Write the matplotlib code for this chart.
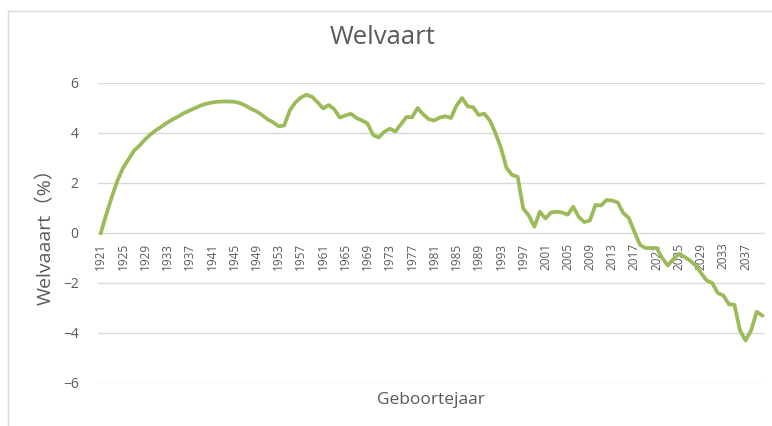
import matplotlib
matplotlib.use("Agg")
import matplotlib.pyplot as plt
from matplotlib.lines import Line2D
import numpy as np

plt.rcParams['font.family'] = ['Open Sans', 'Noto Sans CJK SC', 'DejaVu Sans']

years = list(range(1921, 2041))
welvaart = [
    0.00, 0.75, 1.45, 2.10, 2.60, 2.95, 3.30, 3.50, 3.75, 3.95,   # 1921-1930
    4.12, 4.27, 4.42, 4.55, 4.67, 4.80, 4.90, 5.00, 5.10, 5.17,   # 1931-1940
    5.22, 5.25, 5.26, 5.26, 5.25, 5.20, 5.10, 4.97, 4.87, 4.72,   # 1941-1950
    4.55, 4.43, 4.27, 4.30, 4.90, 5.22, 5.42, 5.53, 5.45, 5.23,   # 1951-1960
    4.98, 5.12, 4.95, 4.62, 4.70, 4.77, 4.60, 4.50, 4.38, 3.92,   # 1961-1970
    3.82, 4.05, 4.17, 4.06, 4.35, 4.64, 4.63, 5.00, 4.75, 4.55,   # 1971-1980
    4.50, 4.62, 4.67, 4.60, 5.10, 5.40, 5.07, 5.03, 4.72, 4.77,   # 1981-1990
    4.50, 4.00, 3.40, 2.60, 2.32, 2.25, 0.98, 0.70, 0.25, 0.85,   # 1991-2000
    0.58, 0.82, 0.85, 0.82, 0.73, 1.05, 0.64, 0.44, 0.50, 1.12,   # 2001-2010
    1.10, 1.32, 1.30, 1.22, 0.80, 0.60, 0.05, -0.47, -0.60, -0.60,  # 2011-2020
    -0.60, -1.00, -1.30, -1.05, -0.83, -0.95, -1.10, -1.30, -1.60, -1.90,  # 2021-2030
    -2.00, -2.40, -2.50, -2.85, -2.87, -3.90, -4.30, -3.90, -3.15, -3.30,  # 2031-2040
]
tick_years = list(range(1921, 2040, 4))
y_ticks = [-6, -4, -2, 0, 2, 4, 6]

title = "Welvaart"
xlabel = "Geboortejaar"
ylabel = "Welvaaart（%）"

text_col = "#595959"
grid_col = "#d9d9d9"
line_col = "#9bbb59"

fig = plt.figure(figsize=(7.72, 4.26), dpi=100)
ax = fig.add_axes([98/772, 1-383/426, (765-98)/772, 300/426])

ax.plot(years, welvaart, color=line_col, linewidth=2.7, solid_joinstyle='round', zorder=3)

ax.spines['bottom'].set_position(('data', 0))
for s in ['top', 'right', 'left', 'bottom']:
    ax.spines[s].set_visible(False)

ax.set_xlim(1920.5, 2040.5)
ax.set_ylim(-6, 6)
ax.set_yticks(y_ticks)
ax.set_yticklabels([("\u2212%d" % -v) if v < 0 else str(v) for v in y_ticks])
ax.yaxis.grid(True, color=grid_col, linewidth=1.0)
ax.set_axisbelow(True)

ax.set_xticks(tick_years)
ax.set_xticklabels([str(y) for y in tick_years])
ax.tick_params(axis='x', length=0, pad=7, labelsize=8.5, labelcolor=text_col, labelrotation=90)
ax.tick_params(axis='y', length=0, pad=14, labelsize=10, labelcolor=text_col)
for lab in ax.get_xticklabels():
    lab.set_va('top')
    lab.set_ha('center')

fig.text(383/772, 1-37.5/426, title, ha='center', va='center', fontsize=18.5, color=text_col)
fig.text(431/772, 1-400/426, xlabel, ha='center', va='center', fontsize=12.5, color=text_col)
fig.text(46/772, 1-232/426, ylabel, ha='center', va='center', rotation=90, fontsize=14,
         color=text_col, family=['Open Sans', 'Noto Sans CJK SC'])

fig.add_artist(Line2D([7.5/772, 7.5/772], [0, 1-10.5/426], transform=fig.transFigure,
                      color=grid_col, linewidth=1.0))
fig.add_artist(Line2D([7.5/772, 1], [1-10.5/426, 1-10.5/426], transform=fig.transFigure,
                      color=grid_col, linewidth=1.0))

fig.savefig("out.png", dpi=100)
